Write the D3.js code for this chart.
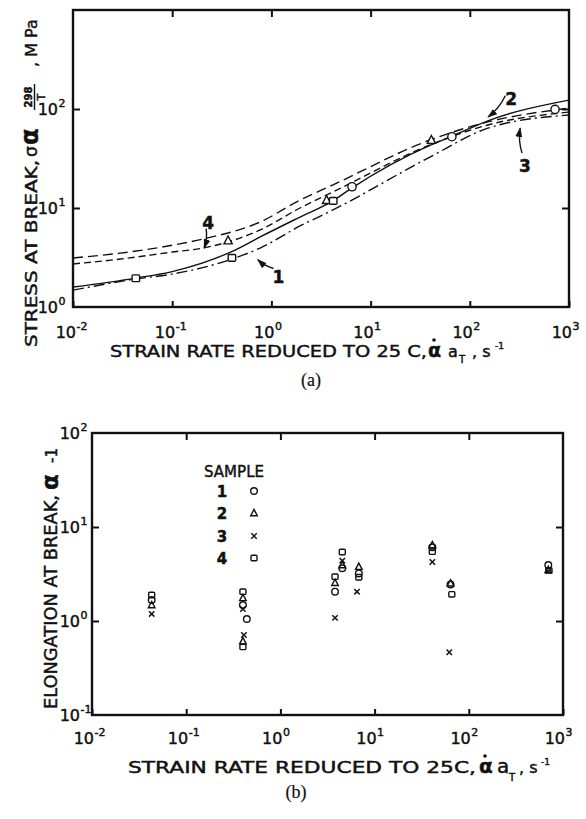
<!DOCTYPE html>
<html><head><meta charset="utf-8">
<script src="https://cdn.jsdelivr.net/npm/d3@7"></script>
<style>
body{margin:0;background:#fff}
svg{display:block}
text{font-family:"DejaVu Sans",sans-serif;fill:#111;stroke:#111;stroke-width:0.45px}
text.serif{font-family:"Liberation Serif",serif;stroke-width:0.2px}
</style>
</head><body><svg id="c" width="586" height="819"></svg>
<script>
// ---------- DATA ----------
const rateTicks = [1e-2, 1e-1, 1e0, 1e1, 1e2, 1e3];
const rateTickExp = ["-2", "-1", "0", "1", "2", "3"];
const stressTicks = [1, 10, 100];
const stressTickExp = ["0", "1", "2"];
const elongTicks = [0.1, 1, 10, 100];
const elongTickExp = ["-1", "0", "1", "2"];

// (a) fitted curves: strain rate (s^-1) and stress (MPa)
const solidRate   = [0.01, 0.043, 0.1, 0.43, 0.77, 1.94, 4.17, 6.5, 39.6, 65.7, 152, 1000];
const solidStress = [1.59, 1.96, 2.28, 3.76, 5.1, 8.1, 11.8, 16.0, 43, 53, 76, 123];
const dashDotRate   = [0.01, 0.043, 0.1, 0.43, 0.77, 1.94, 4.17, 39.6, 152, 1000];
const dashDotStress = [1.48, 1.92, 2.15, 3.13, 3.94, 6.58, 9.55, 32.7, 64, 87];
const longDashRate   = [0.01, 0.03, 0.1, 0.204, 0.77, 1.94, 4.17, 39.6, 152, 1000];
const longDashStress = [3.13, 3.5, 4.2, 4.86, 7.22, 12.0, 17.1, 48.6, 74, 102];
const shortDashRate   = [0.01, 0.03, 0.1, 0.204, 0.77, 1.94, 4.17, 39.6, 152, 1000];
const shortDashStress = [2.72, 3.05, 3.59, 3.94, 6.0, 10.0, 14.5, 43.3, 69, 93];

// (a) measured points
const ptRate   = [0.043, 0.40, 0.366, 3.6, 4.2, 6.5, 41, 66, 723];
const ptStress = [1.95, 3.13, 4.7, 12.0, 11.8, 16.4, 48.6, 52.5, 99];
const ptShape  = ["square", "square", "triangle", "triangle", "square", "circle", "triangle", "circle", "circle"];

// (a) curve labels (sample number, text position, arrow from -> to), data units
const lblText   = ["4", "1", "2", "3"];
const lblRate   = [0.23, 1.18, 262, 360];
const lblStress = [7.3, 2.05, 128, 27];
const arrFromRate   = [0.22, 1.05, 228, 336];
const arrFromStress = [6.2, 2.45, 136, 36];
const arrToRate     = [0.21, 0.73, 153, 322];
const arrToStress   = [3.94, 3.0, 83, 64];

// (b) elongation at break, per sample
const s1Rate = [0.043, 0.40, 0.44, 3.8, 4.54, 6.8, 41, 64, 698];
const s1Elong = [1.67, 1.48, 1.05, 2.05, 3.64, 3.21, 6.08, 2.45, 3.94];
const s2Rate = [0.043, 0.40, 0.40, 3.8, 4.54, 6.8, 41, 64, 698];
const s2Elong = [1.48, 1.76, 0.61, 2.55, 3.94, 3.78, 6.43, 2.52, 3.5];
const s3Rate = [0.043, 0.40, 0.41, 3.8, 4.54, 6.5, 41, 62, 698];
const s3Elong = [1.19, 1.34, 0.71, 1.08, 4.38, 2.05, 4.24, 0.465, 3.4];
const s4Rate = [0.043, 0.40, 0.40, 3.8, 4.54, 6.8, 41, 66, 710];
const s4Elong = [1.89, 2.05, 0.53, 2.96, 5.42, 2.92, 5.46, 1.92, 3.45];
const sampleNames = ["1", "2", "3", "4"];
const sampleShapes = ["circle", "triangle", "cross", "square"];

// ---------- DRAW ----------
const svg = d3.select("#c");
const ink = "#111";

const xA = d3.scaleLog().domain([1e-2, 1e3]).range([73, 569]);
const yA = d3.scaleLog().domain([1, 1000]).range([307, 10]);
const xB = d3.scaleLog().domain([1e-2, 1e3]).range([92, 563]);
const yB = d3.scaleLog().domain([0.1, 100]).range([715, 433]);

svg.append("defs").append("marker")
  .attr("id", "ah").attr("viewBox", "0 0 10 10").attr("refX", 9).attr("refY", 5)
  .attr("markerWidth", 7).attr("markerHeight", 7).attr("orient", "auto")
  .append("path").attr("d", "M0,1.5 L10,5 L0,8.5 Z").attr("fill", ink);

function frame(x, y, rightTicks) {
  const [x0, x1] = x.range(), [y0, y1] = y.range();
  const g = svg.append("g");
  g.append("rect").attr("x", x0).attr("y", y1).attr("width", x1 - x0).attr("height", y0 - y1)
    .attr("fill", "none").attr("stroke", ink).attr("stroke-width", 2.4);
  const st = s => { s.select(".domain").remove(); s.selectAll("line").attr("stroke-width", 2).attr("stroke", ink); };
  g.append("g").attr("transform", `translate(0,${y0})`)
    .call(d3.axisBottom(x).tickValues(rateTicks).tickSize(-6).tickFormat("")).call(st);
  g.append("g").attr("transform", `translate(0,${y1})`)
    .call(d3.axisTop(x).tickValues(rateTicks.slice(1, -1)).tickSize(-7).tickFormat("")).call(st);
  g.append("g").attr("transform", `translate(${x0},0)`)
    .call(d3.axisLeft(y).tickValues(rightTicks).tickSize(-7).tickFormat("")).call(st);
  g.append("g").attr("transform", `translate(${x1},0)`)
    .call(d3.axisRight(y).tickValues(rightTicks).tickSize(-7).tickFormat("")).call(st);
}

function powLabel(xpos, ypos, exp, size, supSize, supDy) {
  svg.append("text").attr("x", xpos).attr("y", ypos)
    .attr("text-anchor", "end").attr("font-size", size).text("10");
  svg.append("text").attr("x", xpos + 0.5).attr("y", ypos + supDy)
    .attr("text-anchor", "start").attr("font-size", supSize).text(exp);
}

// ---- panel (a) ----
frame(xA, yA, [10, 100]);
rateTicks.forEach((v, i) => powLabel(xA(v) + 3, 338, rateTickExp[i], 16, 11, -8));
stressTicks.forEach((v, i) => powLabel(58, yA(v) + 6, stressTickExp[i], 16, 11, -8));

const lineA = (rs, ss) => d3.line().x((d, i) => xA(rs[i])).y((d, i) => yA(ss[i])).curve(d3.curveMonotoneX)(rs);
const curves = [
  [solidRate, solidStress, null],
  [dashDotRate, dashDotStress, "11,4,2,4"],
  [longDashRate, longDashStress, "10,5"],
  [shortDashRate, shortDashStress, "7,4"]
];
svg.append("clipPath").attr("id", "clipA").append("rect")
  .attr("x", 73).attr("y", 10).attr("width", 496).attr("height", 297);
curves.forEach(([r, s, dash]) => {
  svg.append("path").attr("d", lineA(r, s)).attr("fill", "none").attr("stroke", ink)
    .attr("stroke-width", 1.4).attr("stroke-dasharray", dash).attr("clip-path", "url(#clipA)");
});

function marker(g, shape, cx, cy, sz, fill) {
  const s = sz;
  if (shape === "circle") g.append("circle").attr("cx", cx).attr("cy", cy).attr("r", s * 0.55)
    .attr("fill", fill).attr("stroke", ink).attr("stroke-width", 1.4);
  else if (shape === "square") g.append("rect").attr("x", cx - s * 0.5).attr("y", cy - s * 0.45)
    .attr("width", s).attr("height", s * 0.9).attr("rx", 1).attr("fill", fill).attr("stroke", ink).attr("stroke-width", 1.4);
  else if (shape === "triangle") g.append("path")
    .attr("d", `M${cx},${cy - s * 0.6} L${cx + s * 0.55},${cy + s * 0.45} L${cx - s * 0.55},${cy + s * 0.45} Z`)
    .attr("fill", fill).attr("stroke", ink).attr("stroke-width", 1.4);
  else if (shape === "cross") g.append("path")
    .attr("d", `M${cx - s * 0.45},${cy - s * 0.45} L${cx + s * 0.45},${cy + s * 0.45} M${cx + s * 0.45},${cy - s * 0.45} L${cx - s * 0.45},${cy + s * 0.45}`)
    .attr("stroke", ink).attr("stroke-width", 1.5);
}
const gPtsA = svg.append("g");
ptRate.forEach((r, i) => marker(gPtsA, ptShape[i], xA(r), yA(ptStress[i]), 7.5, "#fff"));

lblText.forEach((t, i) => {
  svg.append("text").attr("x", xA(lblRate[i])).attr("y", yA(lblStress[i]) + 7)
    .attr("text-anchor", "middle").attr("font-size", 17).attr("font-weight", "bold").text(t);
  const x1 = xA(arrFromRate[i]), y1 = yA(arrFromStress[i]), x2 = xA(arrToRate[i]), y2 = yA(arrToStress[i]);
  const mx = (x1 + x2) / 2 + (y2 - y1) * 0.12, my = (y1 + y2) / 2 - (x2 - x1) * 0.12;
  svg.append("path").attr("d", `M${x1},${y1} Q${mx},${my} ${x2},${y2}`).attr("fill", "none")
    .attr("stroke", ink).attr("stroke-width", 1.4).attr("marker-end", "url(#ah)");
});

// axis titles (a)
svg.append("text").attr("x", 110).attr("y", 357).attr("font-size", 16)
  .attr("textLength", 317).attr("lengthAdjust", "spacingAndGlyphs").text("STRAIN RATE REDUCED TO 25 C,");
svg.append("text").attr("x", 428).attr("y", 357).attr("font-size", 19).attr("font-weight", "bold").text("α");
svg.append("circle").attr("cx", 434).attr("cy", 340).attr("r", 1.8).attr("fill", ink);
svg.append("text").attr("x", 448).attr("y", 357).attr("font-size", 16).text("a");
svg.append("text").attr("x", 459).attr("y", 363).attr("font-size", 10).text("T");
svg.append("text").attr("x", 472).attr("y", 357).attr("font-size", 16).text(", s");
svg.append("text").attr("x", 495).attr("y", 349).attr("font-size", 9).text("-1");
svg.append("text").attr("class", "serif").attr("x", 311).attr("y", 386).attr("text-anchor", "middle")
  .attr("font-size", 18).text("(a)");

const yt = svg.append("g").attr("transform", "translate(37,347) rotate(-90)");
yt.append("text").attr("x", 0).attr("y", 0).attr("font-size", 16)
  .attr("textLength", 187).attr("lengthAdjust", "spacingAndGlyphs").text("STRESS AT BREAK,");
yt.append("text").attr("x", 190).attr("y", 0).attr("font-size", 17).text("σ");
yt.append("text").attr("x", 202).attr("y", 1).attr("font-size", 24).attr("font-weight", "bold").text("α");
yt.append("text").attr("x", 250).attr("y", -5).attr("text-anchor", "middle").attr("font-size", 10).attr("font-weight", "bold").text("298");
yt.append("line").attr("x1", 237).attr("x2", 263).attr("y1", -2.5).attr("y2", -2.5).attr("stroke", ink).attr("stroke-width", 1.4);
yt.append("text").attr("x", 250).attr("y", 8).attr("text-anchor", "middle").attr("font-size", 11).text("T");
yt.append("text").attr("x", 280).attr("y", 0).attr("font-size", 16).text(", M Pa");

// ---- panel (b) ----
frame(xB, yB, [1, 10]);
rateTicks.forEach((v, i) => powLabel(xB(v) + 2, 744, rateTickExp[i], 16, 11, -8));
elongTicks.forEach((v, i) => powLabel(80, yB(v) + 6, elongTickExp[i], 16, 11, -8));

const gPtsB = svg.append("g");
[[s1Rate, s1Elong], [s2Rate, s2Elong], [s3Rate, s3Elong], [s4Rate, s4Elong]].forEach(([r, e], k) => {
  r.forEach((v, i) => marker(gPtsB, sampleShapes[k], xB(v), yB(e[i]), 6, "none"));
});

// legend
svg.append("text").attr("x", 204).attr("y", 477).attr("font-size", 16)
  .attr("textLength", 60).attr("lengthAdjust", "spacingAndGlyphs").text("SAMPLE");
sampleNames.forEach((n, k) => {
  const yy = [491, 513, 536, 558][k];
  svg.append("text").attr("x", 222).attr("y", yy + 6).attr("text-anchor", "middle")
    .attr("font-size", 15).attr("font-weight", "bold").text(n);
  marker(svg, sampleShapes[k], 254, yy, 6, "none");
});

svg.append("text").attr("x", 128).attr("y", 773).attr("font-size", 16)
  .attr("textLength", 348).attr("lengthAdjust", "spacingAndGlyphs").text("STRAIN RATE REDUCED TO 25C,");
svg.append("text").attr("x", 479).attr("y", 773).attr("font-size", 20).attr("font-weight", "bold").text("α");
svg.append("circle").attr("cx", 485).attr("cy", 756).attr("r", 1.8).attr("fill", ink);
svg.append("text").attr("x", 497).attr("y", 773).attr("font-size", 20).text("a");
svg.append("text").attr("x", 509).attr("y", 781).attr("font-size", 10).text("T");
svg.append("text").attr("x", 519).attr("y", 773).attr("font-size", 16).text(", s");
svg.append("text").attr("x", 541).attr("y", 765).attr("font-size", 9).text("-1");
svg.append("text").attr("class", "serif").attr("x", 296).attr("y", 798).attr("text-anchor", "middle")
  .attr("font-size", 18).text("(b)");

const yb = svg.append("g").attr("transform", "translate(57,709) rotate(-90)");
yb.append("text").attr("x", 0).attr("y", 0).attr("font-size", 17)
  .attr("textLength", 214).attr("lengthAdjust", "spacingAndGlyphs").text("ELONGATION AT BREAK,");
yb.append("text").attr("x", 219).attr("y", 1).attr("font-size", 23).attr("font-weight", "bold").text("α");
yb.append("text").attr("x", 246).attr("y", 0).attr("font-size", 15).text("-1");
</script>
</body></html>
